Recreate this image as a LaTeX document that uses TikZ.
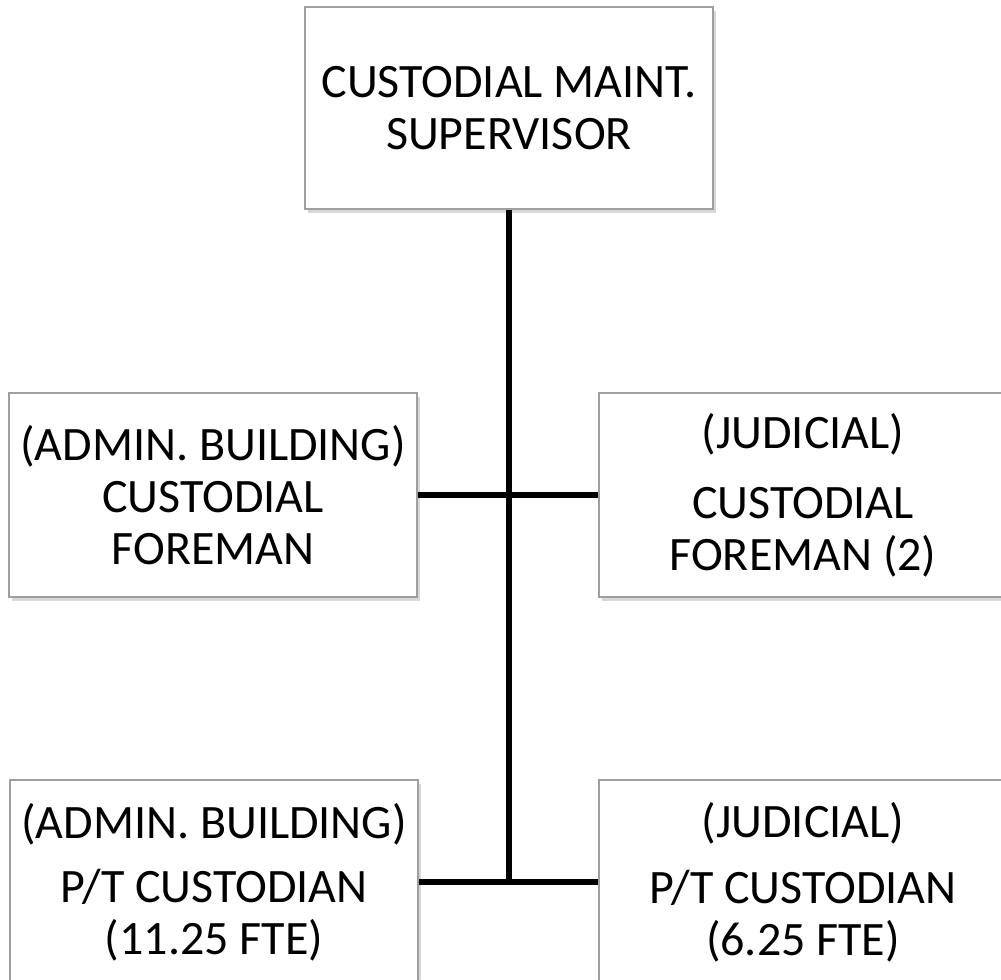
\documentclass[tikz,border=0pt]{standalone}
\usepackage{fontspec}
\setmainfont{Carlito}
\usetikzlibrary{shadows}
\tikzset{orgbox/.style={draw=gray!75,line width=0.6pt,fill=white,
    minimum width=4.08cm,minimum height=2.04cm,inner sep=0pt,align=center,
    font=\fontsize{13.65}{14.8}\selectfont,
    drop shadow={shadow xshift=0.03cm,shadow yshift=-0.04cm,opacity=0.3,fill=gray}},
  orgline/.style={line width=0.055cm}}
\begin{document}
\begin{tikzpicture}[x=0.01cm,y=-0.01cm]
   \fill[white] (0,0) rectangle (1001,979);
   \useasboundingbox (0,0) rectangle (1001,979);
   % Top
   \node[orgbox,minimum height=2.01cm] (sup) at (509,108) {CUSTODIAL MAINT.\\SUPERVISOR};
   % Middle
   \node[orgbox] (adminfm) at (213,495) {(ADMIN. BUILDING)\\CUSTODIAL\\FOREMAN};
   \node[orgbox] (judfm) at (803,495) {(JUDICIAL)\\[0.18cm]CUSTODIAL\\FOREMAN (2)};
   % Bottom
   \node[orgbox] (adminpt) at (214,882) {(ADMIN. BUILDING)\\[0.12cm]P/T CUSTODIAN\\(11.25 FTE)};
   \node[orgbox] (judpt) at (803,882) {(JUDICIAL)\\[0.14cm]P/T CUSTODIAN\\(6.25 FTE)};
   % Lines
   \coordinate (foot) at (sup.south |- adminpt.east);
   \draw[orgline] (sup.south) -- (foot);
   \draw[orgline] (adminfm.east) -- (judfm.west);
   \draw[orgline] (adminpt.east) -- (judpt.west);
\end{tikzpicture}
\end{document}
